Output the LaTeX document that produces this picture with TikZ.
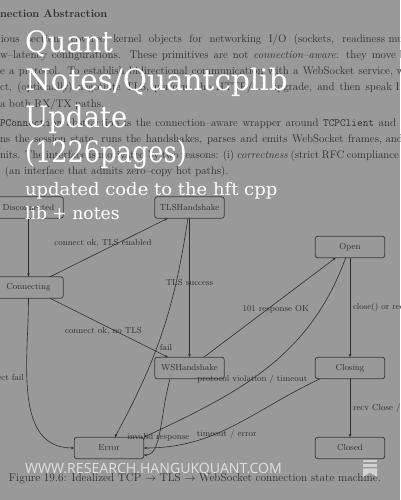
\documentclass[tikz,border=0pt]{standalone}
\usepackage{fontspec}
\newfontfamily\titlefont{DejaVu Serif}
\newfontfamily\footfont{Open Sans}
\usetikzlibrary{arrows.meta}
\definecolor{bg}{HTML}{999999}
\definecolor{ink}{HTML}{2E2E2E}
\definecolor{boxc}{HTML}{3C3C3C}
\definecolor{footc}{HTML}{E0E0E0}
\definecolor{bmarkc}{HTML}{D2D2D2}
\begin{document}
\begin{tikzpicture}[x=1pt,y=1pt,
  every node/.style={inner sep=0pt, outer sep=0pt},
  body/.style={anchor=base west, text=ink, font=\fontsize{11}{13}\selectfont},
  state/.style={draw=boxc, line width=0.8pt, rounded corners=2.5pt, minimum width=69.5pt, minimum height=21.5pt, text=ink, font=\fontsize{8.7}{10}\selectfont, inner sep=2pt},
  edge/.style={draw=ink, line width=0.6pt, -{Stealth[length=3.4pt,width=2.6pt]}},
  lbl/.style={text=ink, font=\fontsize{8.7}{10}\selectfont, inner sep=0pt},
  ttl/.style={anchor=base west, text=white, font=\titlefont\fontsize{29.5}{30}\selectfont},
  sub/.style={anchor=base west, text=white, font=\titlefont\fontsize{17.2}{20}\selectfont}]
\useasboundingbox (0,0) rectangle (400,500);
\clip (0,0) rectangle (400,500);
\fill[bg] (0,0) rectangle (400,500);

% page text (justified lines)
\node[body, font=\bfseries\fontsize{11}{13}\selectfont] (h1) at (0,482) {nection Abstraction};
\node[body] (l2) at (1,457) {\hbox to 384pt{ious sections covered kernel objects for networking I/O (sockets, readiness}\ multiplexing,};
\node[body] (l3) at (0,441) {\hbox to 396pt{w--latency configurations. These primitives are not \emph{connection--aware}: they move}\ bytes};
\node[body] (l4) at (0,425) {\hbox to 393pt{e a protocol. To establish bidirectional communication with a WebSocket service,}\ we};
\node[body] (l5) at (0,409) {\hbox to 392pt{ct, (optionally) negotiate TLS, perform the HTTP/1.1 upgrade, and then speak}\ I};
\node[body] (l6) at (0,392) {a both RX/TX paths.};
\node[body] (l7) at (0,373) {\hbox to 396pt{\texttt{PConnection} abstraction is the connection--aware wrapper around \texttt{TCPClient} and}};
\node[body] (l8) at (0,357) {\hbox to 382pt{ns the session state, runs the handshakes, parses and emits WebSocket frames,}\ and};
\node[body] (l9) at (0,341) {\hbox to 399pt{nits. The interface is motivated by two reasons: (i) \emph{correctness} (strict RFC compliance}};
\node[body] (l10) at (5,325) {(an interface that admits zero--copy hot paths).};

% states
\node[state] (disc) at (28.5,292.5) {Disconnected};
\node[state] (tls) at (189.5,292.5) {TLSHandshake};
\node[state] (open) at (350,253) {Open};
\node[state] (conn) at (28.5,212.5) {Connecting};
\node[state] (ws) at (189.5,132) {WSHandshake};
\node[state] (closing) at (350,132) {Closing};
\node[state] (error) at (109,52) {Error};
\node[state] (closed) at (350,52) {Closed};

% transitions
\draw[edge] (disc) -- (conn);
\draw[edge] (conn) -- node[lbl, xshift=-6pt, yshift=4.5pt] {connect ok, TLS enabled} (tls);
\draw[edge] (conn) -- node[lbl, xshift=-5.5pt, yshift=-3.5pt] {connect ok, no TLS} (ws);
\draw[edge] (tls) -- node[lbl, pos=0.46] {TLS success} (ws);
\draw[edge] (tls) to[bend left=10] node[lbl, pos=0.58, right=3pt] {fail} (error);
\draw[edge] (conn.south) to[out=-90,in=180] node[lbl, pos=0.4, left=3pt] {connect fail} (error.west);
\draw[edge] (ws) -- node[lbl, xshift=6pt, yshift=-1.5pt] {101 response OK} (open);
\draw[edge] (open) -- node[lbl, right=3pt] {close() or recv Close} (closing);
\draw[edge] (closing) -- node[lbl, right=3pt] {recv Close / ack} (closed);
\draw[edge] ([xshift=-4.3pt]open.south) to[out=-110,in=25] node[lbl, pos=0.57] {protocol violation / timeout} (error.north east);
\draw[edge] ([xshift=5pt]closing.south west) to[out=205,in=0] node[lbl, pos=0.7, anchor=west, xshift=-5pt, yshift=5pt] {timeout / error} (error.east);
\draw[edge] ([xshift=-19.5pt]ws.south) .. controls +(-105:40) and +(18,0) .. ([yshift=-7pt]error.east) node[lbl, pos=0.57] {invalid response};

% caption
\node[body, font=\fontsize{11.3}{13}\selectfont] (cap) at (9,18) {Figure 19.6: Idealized TCP $\rightarrow$ TLS $\rightarrow$ WebSocket connection state machine.};

% overlay title
\node[ttl, xscale=0.96] (t1) at (25,447) {Quant};
\node[ttl] (t2) at (25,409.5) {Notes/Quantcplib};
\node[ttl, xscale=0.935] (t3) at (25,372.5) {Update};
\node[ttl, xscale=0.87] (t4) at (25,337) {(1226pages)};
\node[sub, xscale=1.045] (s1) at (25,304.5) {updated code to the hft cpp};
\node[sub] (s2) at (25,280.5) {lib + notes};

% footer
\node[anchor=base west, text=footc, font=\footfont\fontsize{14.1}{16}\selectfont] (url) at (25,27) {WWW.RESEARCH.HANGUKQUANT.COM};
\fill[bmarkc] (363,40) rectangle (377,37.5);
\fill[bmarkc] (363,35.5) rectangle (377,33);
\fill[bmarkc] (363,31.5) -- (377,31.5) -- (377,23) -- (370,27.5) -- (363,23) -- cycle;
\end{tikzpicture}
\end{document}
